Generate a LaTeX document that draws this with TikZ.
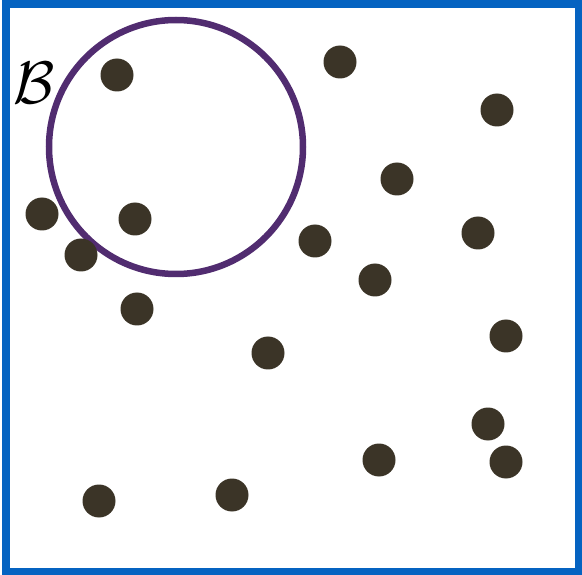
\documentclass[tikz,border=0pt]{standalone}
\usepackage{amsmath}
\definecolor{framebl}{HTML}{0563C1}
\definecolor{ballpu}{HTML}{512C70}
\definecolor{dotbr}{HTML}{3B3427}
\begin{document}
\begin{tikzpicture}[x=1pt,y=-1pt,
  pt/.style={circle,fill=dotbr,inner sep=0pt,minimum size=33pt}]
\useasboundingbox (0,0) rectangle (582,575);
\fill[white] (0,0) rectangle (582,575);
\node[draw=framebl,line width=8pt,minimum width=572.5pt,minimum height=568pt,inner sep=0pt] (frame) at (292.25,288) {};
\node[draw=ballpu,line width=6.5pt,circle,minimum size=254pt,inner sep=0pt] (ball) at (176,147) {};
\node[pt] (p1) at (117,75) {};
\node[pt] (p2) at (340,62) {};
\node[pt] (p3) at (497,110) {};
\node[pt] (p4) at (397,179) {};
\node[pt] (p5) at (42,214) {};
\node[pt] (p6) at (135,219) {};
\node[pt] (p7) at (81,255) {};
\node[pt] (p8) at (315,241) {};
\node[pt] (p9) at (478,233) {};
\node[pt] (p10) at (375,280) {};
\node[pt] (p11) at (137,309) {};
\node[pt] (p12) at (506,336) {};
\node[pt] (p13) at (268,353) {};
\node[pt] (p14) at (488,424) {};
\node[pt] (p15) at (379,460) {};
\node[pt] (p16) at (506,462) {};
\node[pt] (p17) at (99,501) {};
\node[pt] (p18) at (232,495) {};
\node[inner sep=0pt,scale=6] (lbl) at (34,83) {$\mathcal{B}$};
\end{tikzpicture}
\end{document}
